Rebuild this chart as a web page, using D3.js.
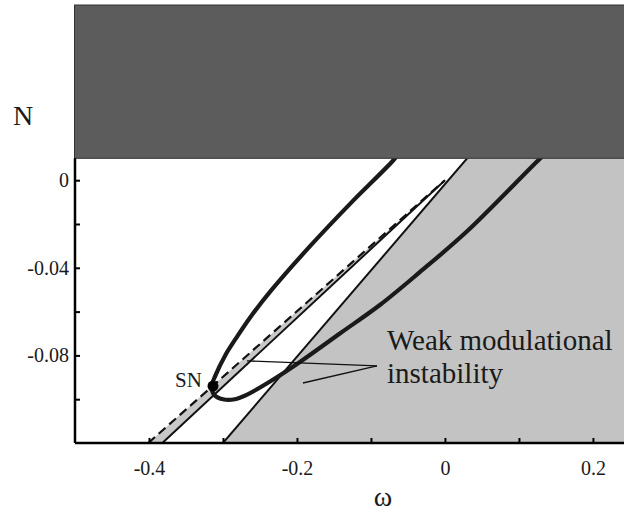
<!DOCTYPE html>
<html>
<head>
<meta charset="utf-8">
<script src="https://cdn.jsdelivr.net/npm/d3@7"></script>
<style>
  body { margin: 0; background: #fff; }
  text { font-family: "Liberation Serif", "Times New Roman", Times, "DejaVu Serif", serif; fill: #1a1a1a; }
</style>
</head>
<body>
<svg id="chart"></svg>
<script>
// Chart size
const WIDTH = 624, HEIGHT = 517;

// Axis ranges and ticks
const omegaDomain = [-0.5, 0.242];
const nDomain = [-0.12, 0.08];
const xTicks = [-0.4, -0.3, -0.2, -0.1, 0, 0.1, 0.2];
const xTickLabels = ['-0.4', '', '-0.2', '', '0', '', '0.2'];
const yTicks = [0, -0.02, -0.04, -0.06, -0.08, -0.1];
const yTickLabels = ['0', '', '-0.04', '', '-0.08', ''];

// Dark region on top (N above this level)
const darkRegion = [0.01, 0.08];

// Stability boundary lines through the origin [omega, N]
const dashedLine = [[-0.401, -0.12], [0, 0]];
const thinLine = [[-0.382, -0.12], [0, 0]];
const grayBoundary = [[-0.3, -0.12], [0.03, 0.01]];

// Thick closed branch (upper part -> SN -> lower part)
const branchOmega = [-0.058, -0.070, -0.126, -0.182, -0.234, -0.264, -0.282, -0.297, -0.310, -0.315,
  -0.312, -0.300, -0.284, -0.268, -0.232, -0.196, -0.142, -0.088, -0.034, 0.031, 0.128, 0.139];
const branchN = [0.014, 0.009, -0.010, -0.030, -0.050, -0.063, -0.072, -0.080, -0.089, -0.094,
  -0.098, -0.100, -0.100, -0.098, -0.091, -0.083, -0.070, -0.057, -0.042, -0.023, 0.0097, 0.013];

// Saddle-node point
const snPoint = [-0.3135, -0.094];

// Pointer lines for the annotation [omega, N]
const pointerA = [[-0.2676, -0.0825], [-0.0919, -0.0848]];
const pointerB = [[-0.1919, -0.0926], [-0.0919, -0.0848]];

const svg = d3.select('#chart')
  .attr('width', WIDTH)
  .attr('height', HEIGHT);

const x = d3.scaleLinear().domain(omegaDomain).range([75, 624]);
const y = d3.scaleLinear().domain(nDomain).range([443, 5]);

// Clip to the white plot area
svg.append('clipPath').attr('id', 'plot-clip')
  .append('rect')
  .attr('x', x(omegaDomain[0]))
  .attr('y', y(darkRegion[0]))
  .attr('width', x(omegaDomain[1]) - x(omegaDomain[0]))
  .attr('height', y(nDomain[0]) - y(darkRegion[0]));

const plot = svg.append('g').attr('clip-path', 'url(#plot-clip)');
const line = d3.line().x(d => x(d[0])).y(d => y(d[1]));

// Big light gray region right of the boundary
const grayPoly = [grayBoundary[0], grayBoundary[1], [omegaDomain[1], darkRegion[0]], [omegaDomain[1], nDomain[0]]];
plot.append('path')
  .attr('d', line(grayPoly) + 'Z')
  .attr('fill', '#c3c3c3');

// Narrow gray band between dashed and thin line
const bandPoly = [dashedLine[0], dashedLine[1], thinLine[0]];
plot.append('path')
  .attr('d', line(bandPoly) + 'Z')
  .attr('fill', '#c8c8c8');

plot.append('path')
  .attr('d', line(thinLine))
  .attr('fill', 'none')
  .attr('stroke', '#111')
  .attr('stroke-width', 2);

plot.append('path')
  .attr('d', line(dashedLine))
  .attr('fill', 'none')
  .attr('stroke', '#111')
  .attr('stroke-width', 2.2)
  .attr('stroke-dasharray', '9,5');

plot.append('path')
  .attr('d', line(grayBoundary))
  .attr('fill', 'none')
  .attr('stroke', '#111')
  .attr('stroke-width', 2);

// Thick branch
const branch = branchOmega.map((w, i) => [w, branchN[i]]);
plot.append('path')
  .attr('d', d3.line().x(d => x(d[0])).y(d => y(d[1])).curve(d3.curveCatmullRom)(branch))
  .attr('fill', 'none')
  .attr('stroke', '#1a1a1a')
  .attr('stroke-width', 4.2);

plot.append('circle')
  .attr('cx', x(snPoint[0]))
  .attr('cy', y(snPoint[1]))
  .attr('r', 5.5)
  .attr('fill', '#000');

// Annotation pointers
[pointerA, pointerB].forEach(p => {
  plot.append('path')
    .attr('d', line(p))
    .attr('fill', 'none')
    .attr('stroke', '#111')
    .attr('stroke-width', 1.3);
});

// Dark region on top
svg.append('rect')
  .attr('x', x(omegaDomain[0]) - 0.5)
  .attr('y', y(darkRegion[1]))
  .attr('width', x(omegaDomain[1]) - x(omegaDomain[0]) + 1)
  .attr('height', y(darkRegion[0]) - y(darkRegion[1]))
  .attr('fill', '#5c5c5c')
  .attr('stroke', '#333')
  .attr('stroke-width', 1);

// Axes with inward ticks
const xAxis = d3.axisBottom(x)
  .tickValues(xTicks)
  .tickSizeInner(-5)
  .tickSizeOuter(0)
  .tickPadding(18)
  .tickFormat((d, i) => xTickLabels[i]);

const yAxis = d3.axisLeft(y)
  .tickValues(yTicks)
  .tickSizeInner(-5)
  .tickSizeOuter(0)
  .tickPadding(6)
  .tickFormat((d, i) => yTickLabels[i]);

const gx = svg.append('g')
  .attr('transform', `translate(0,${y(nDomain[0])})`)
  .call(xAxis);

const gy = svg.append('g')
  .attr('transform', `translate(${x(omegaDomain[0])},0)`)
  .call(yAxis);

// Left axis only spans the white area
gy.select('.domain')
  .attr('d', `M0,${y(darkRegion[0])}V${y(nDomain[0])}`);

[gx, gy].forEach(g => {
  g.select('.domain').attr('stroke', '#000').attr('stroke-width', 2.5);
  g.selectAll('.tick line').attr('stroke', '#000').attr('stroke-width', 2);
  g.selectAll('.tick text')
    .attr('font-size', 20)
    .attr('fill', '#1a1a1a');
});
gx.select('.domain').attr('d', `M${x(omegaDomain[0])},0H${x(omegaDomain[1])}`);

// Axis titles
svg.append('text')
  .attr('x', 23)
  .attr('y', 125)
  .attr('text-anchor', 'middle')
  .attr('font-size', 28)
  .text('N');

svg.append('text')
  .attr('x', 383)
  .attr('y', 506)
  .attr('text-anchor', 'middle')
  .attr('font-size', 28)
  .text('ω');

// Labels
svg.append('text')
  .attr('x', 175)
  .attr('y', 387)
  .attr('font-size', 21)
  .text('SN');

svg.append('text')
  .attr('x', 387)
  .attr('y', 350)
  .attr('font-size', 29)
  .text('Weak modulational');

svg.append('text')
  .attr('x', 387)
  .attr('y', 383)
  .attr('font-size', 29)
  .text('instability');
</script>
</body>
</html>
